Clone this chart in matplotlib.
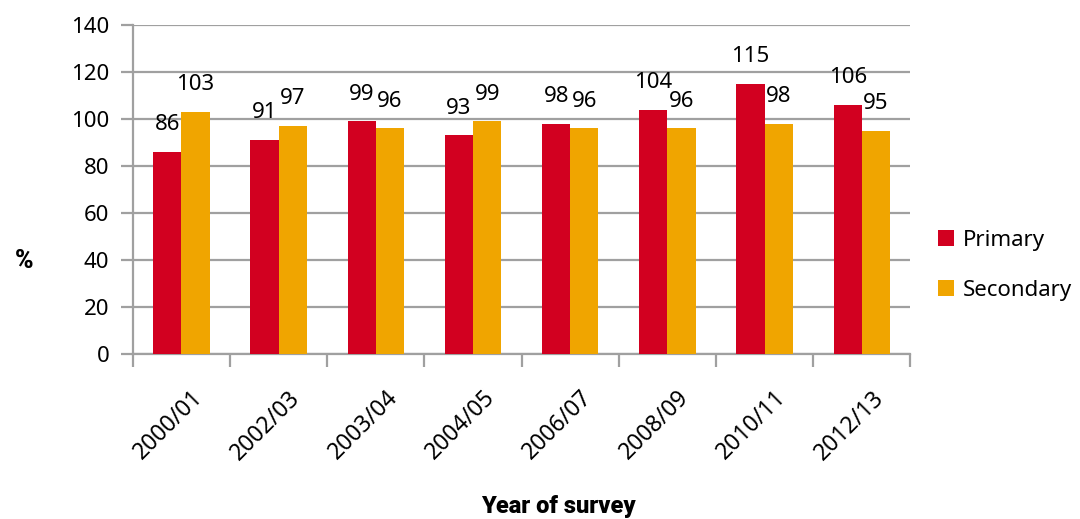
import numpy as np
import matplotlib.pyplot as plt
from matplotlib.transforms import ScaledTranslation

years = ['2000/01', '2002/03', '2003/04', '2004/05', '2006/07', '2008/09', '2010/11', '2012/13']
primary = [86, 91, 99, 93, 98, 104, 115, 106]
secondary = [103, 97, 96, 99, 96, 96, 98, 95]

RED = '#D20020'
GOLD = '#F0A500'
GRID = '#A0A0A0'

plt.rcParams['font.family'] = ['Noto Sans', 'DejaVu Sans']

fig = plt.figure(figsize=(10.8, 5.19), dpi=100)
ax = fig.add_axes([0.123, 0.318, 0.720, 0.634])

x = np.arange(len(years))
w = 0.29
b1 = ax.bar(x - w / 2, primary, w, color=RED, label='Primary', zorder=3)
b2 = ax.bar(x + w / 2, secondary, w, color=GOLD, label='Secondary', zorder=3)

for bars, vals in ((b1, primary), (b2, secondary)):
    for r, v in zip(bars, vals):
        ax.annotate(str(v), (r.get_x() + r.get_width() / 2, v),
                    xytext=(0, 19.5), textcoords='offset points',
                    ha='center', va='center', fontsize=16)

ax.set_xlim(-0.5, len(years) - 0.5)
ax.set_ylim(0, 140)
ax.set_yticks(range(0, 141, 20))
ax.yaxis.grid(True, color=GRID, lw=1.6, zorder=0)

# category labels sit between boundary tick marks
ax.set_xticks(np.arange(len(years) + 1) - 0.5)
ax.set_xticklabels([])
ax.set_xticks(x, minor=True)
ax.set_xticklabels(years, minor=True, rotation=45, ha='right',
                   rotation_mode='anchor', fontsize=16.5)
ax.tick_params(axis='x', which='minor', length=0, pad=14)
ax.tick_params(axis='x', which='major', length=9, width=1.6, color=GRID)
ax.tick_params(axis='y', length=9, width=1.6, color=GRID, labelsize=16, pad=8)
shift = ScaledTranslation(7 / 72, -9 / 72, fig.dpi_scale_trans)
for lab in ax.get_xticklabels(minor=True):
    lab.set_transform(lab.get_transform() + shift)

for s in ('top', 'right'):
    ax.spines[s].set_visible(False)
for s in ('left', 'bottom'):
    ax.spines[s].set_color(GRID)
    ax.spines[s].set_linewidth(1.6)

fig.text(0.022, 0.497, '%', fontsize=18, fontweight='heavy', ha='center', va='center',
         family=['Roboto', 'DejaVu Sans'])
fig.text(0.517, 0.024, 'Year of survey', fontsize=17, fontweight='heavy',
         ha='center', va='center', family=['Roboto', 'DejaVu Sans'])

ax.legend(loc='center left', bbox_to_anchor=(1.01, 0.27), frameon=False,
          fontsize=16, handlelength=0.7, handleheight=0.7, labelspacing=1.3,
          handletextpad=0.4)

fig.savefig('out.png', dpi=100)
